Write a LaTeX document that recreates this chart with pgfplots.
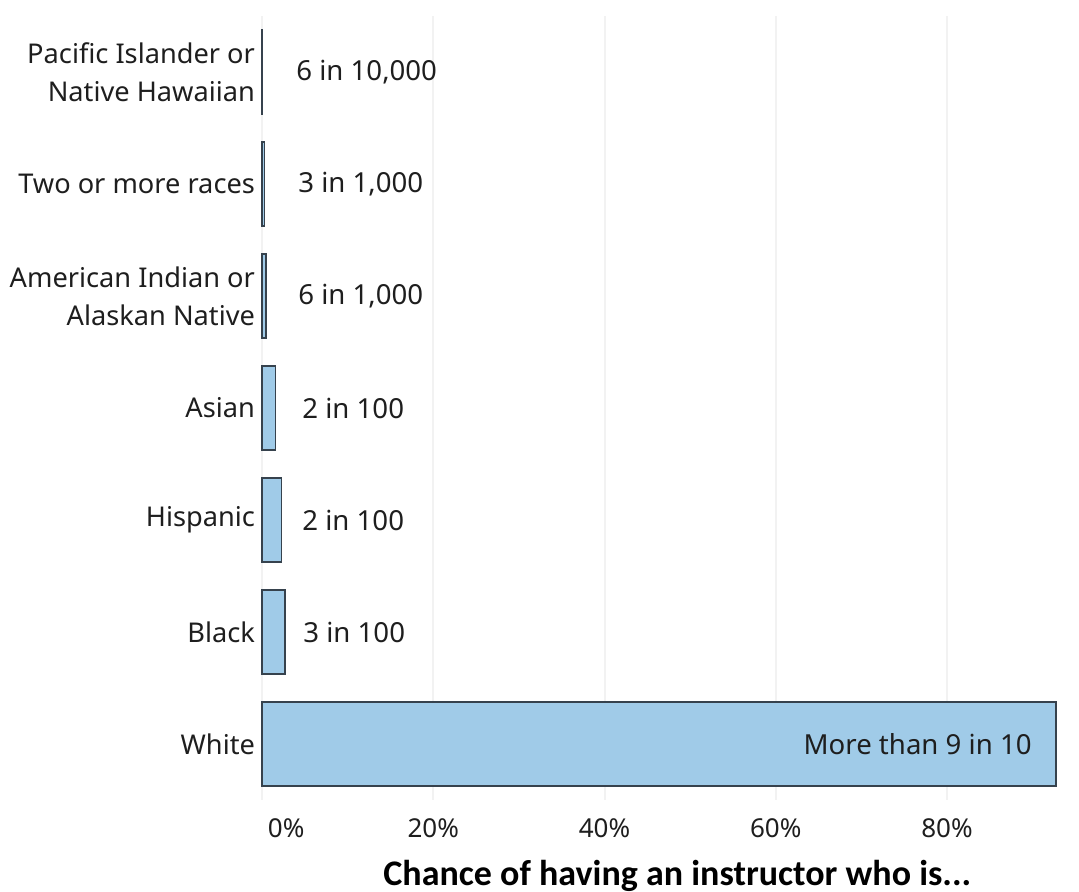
\documentclass[border=0pt]{standalone}
\usepackage{pgfplots}
\pgfplotsset{compat=1.18}
\usepackage{fontspec}
\setmainfont{Noto Sans}
\newfontfamily\titlefont{Carlito}
\definecolor{barfill}{HTML}{A0CBE8}
\definecolor{baredge}{HTML}{36424D}
\definecolor{gridc}{HTML}{F2F2F2}
\definecolor{txt}{HTML}{1E1E1E}
\begin{document}
\begin{tikzpicture}
\path[use as bounding box] (-131pt,-46pt) rectangle (408.5pt,400pt);
\begin{axis}[name=ax,
  at={(0,0)}, anchor=south west,
  xbar, bar width=42pt,
  width=400.3pt, height=392pt, scale only axis,
  xmin=0, xmax=93.5, ymin=-0.5, ymax=6.5,
  axis line style={draw=none},
  ytick={0,...,6},
  yticklabels={White,Black,Hispanic,Asian,{American Indian or\\Alaskan Native},Two or more races,{Pacific Islander or\\Native Hawaiian}},
  yticklabel style={align=right, font=\fontsize{13.6}{19}\selectfont, text=txt},
  major tick length=0pt,
  xtick={0,20,40,60,80},
  xticklabels={{\makebox[0pt][l]{\hspace{3pt}0\%}},20\%,40\%,60\%,80\%},
  xticklabel style={font=\fontsize{13}{15}\selectfont, text=txt, yshift=-6pt},
  xmajorgrids, grid style={gridc, line width=1pt},
  clip=false,
]
\addplot[fill=barfill, draw=baredge, line width=0.8pt] coordinates {(92.7,0) (2.7,1) (2.3,2) (1.6,3) (0.5,4) (0.3,5) (0.06,6)};
\begin{scope}[every node/.style={font=\fontsize{13.8}{15}\selectfont, text=txt, inner sep=0pt}]
\node[anchor=west] at (axis cs:3.97,6) {6 in 10,000};
\node[anchor=west] at (axis cs:4.2,5) {3 in 1,000};
\node[anchor=west] at (axis cs:4.2,4) {6 in 1,000};
\node[anchor=west] at (axis cs:4.67,3) {2 in 100};
\node[anchor=west] at (axis cs:4.67,2) {2 in 100};
\node[anchor=west] at (axis cs:4.79,1) {3 in 100};
\node[anchor=east] at (axis cs:89.93,0) {More than 9 in 10};
\end{scope}
\end{axis}
\node[font=\titlefont\bfseries\fontsize{18}{20}\selectfont, text=black] at ([xshift=7.5pt,yshift=-38pt]ax.south) {Chance of having an instructor who is...};
\end{tikzpicture}
\end{document}
